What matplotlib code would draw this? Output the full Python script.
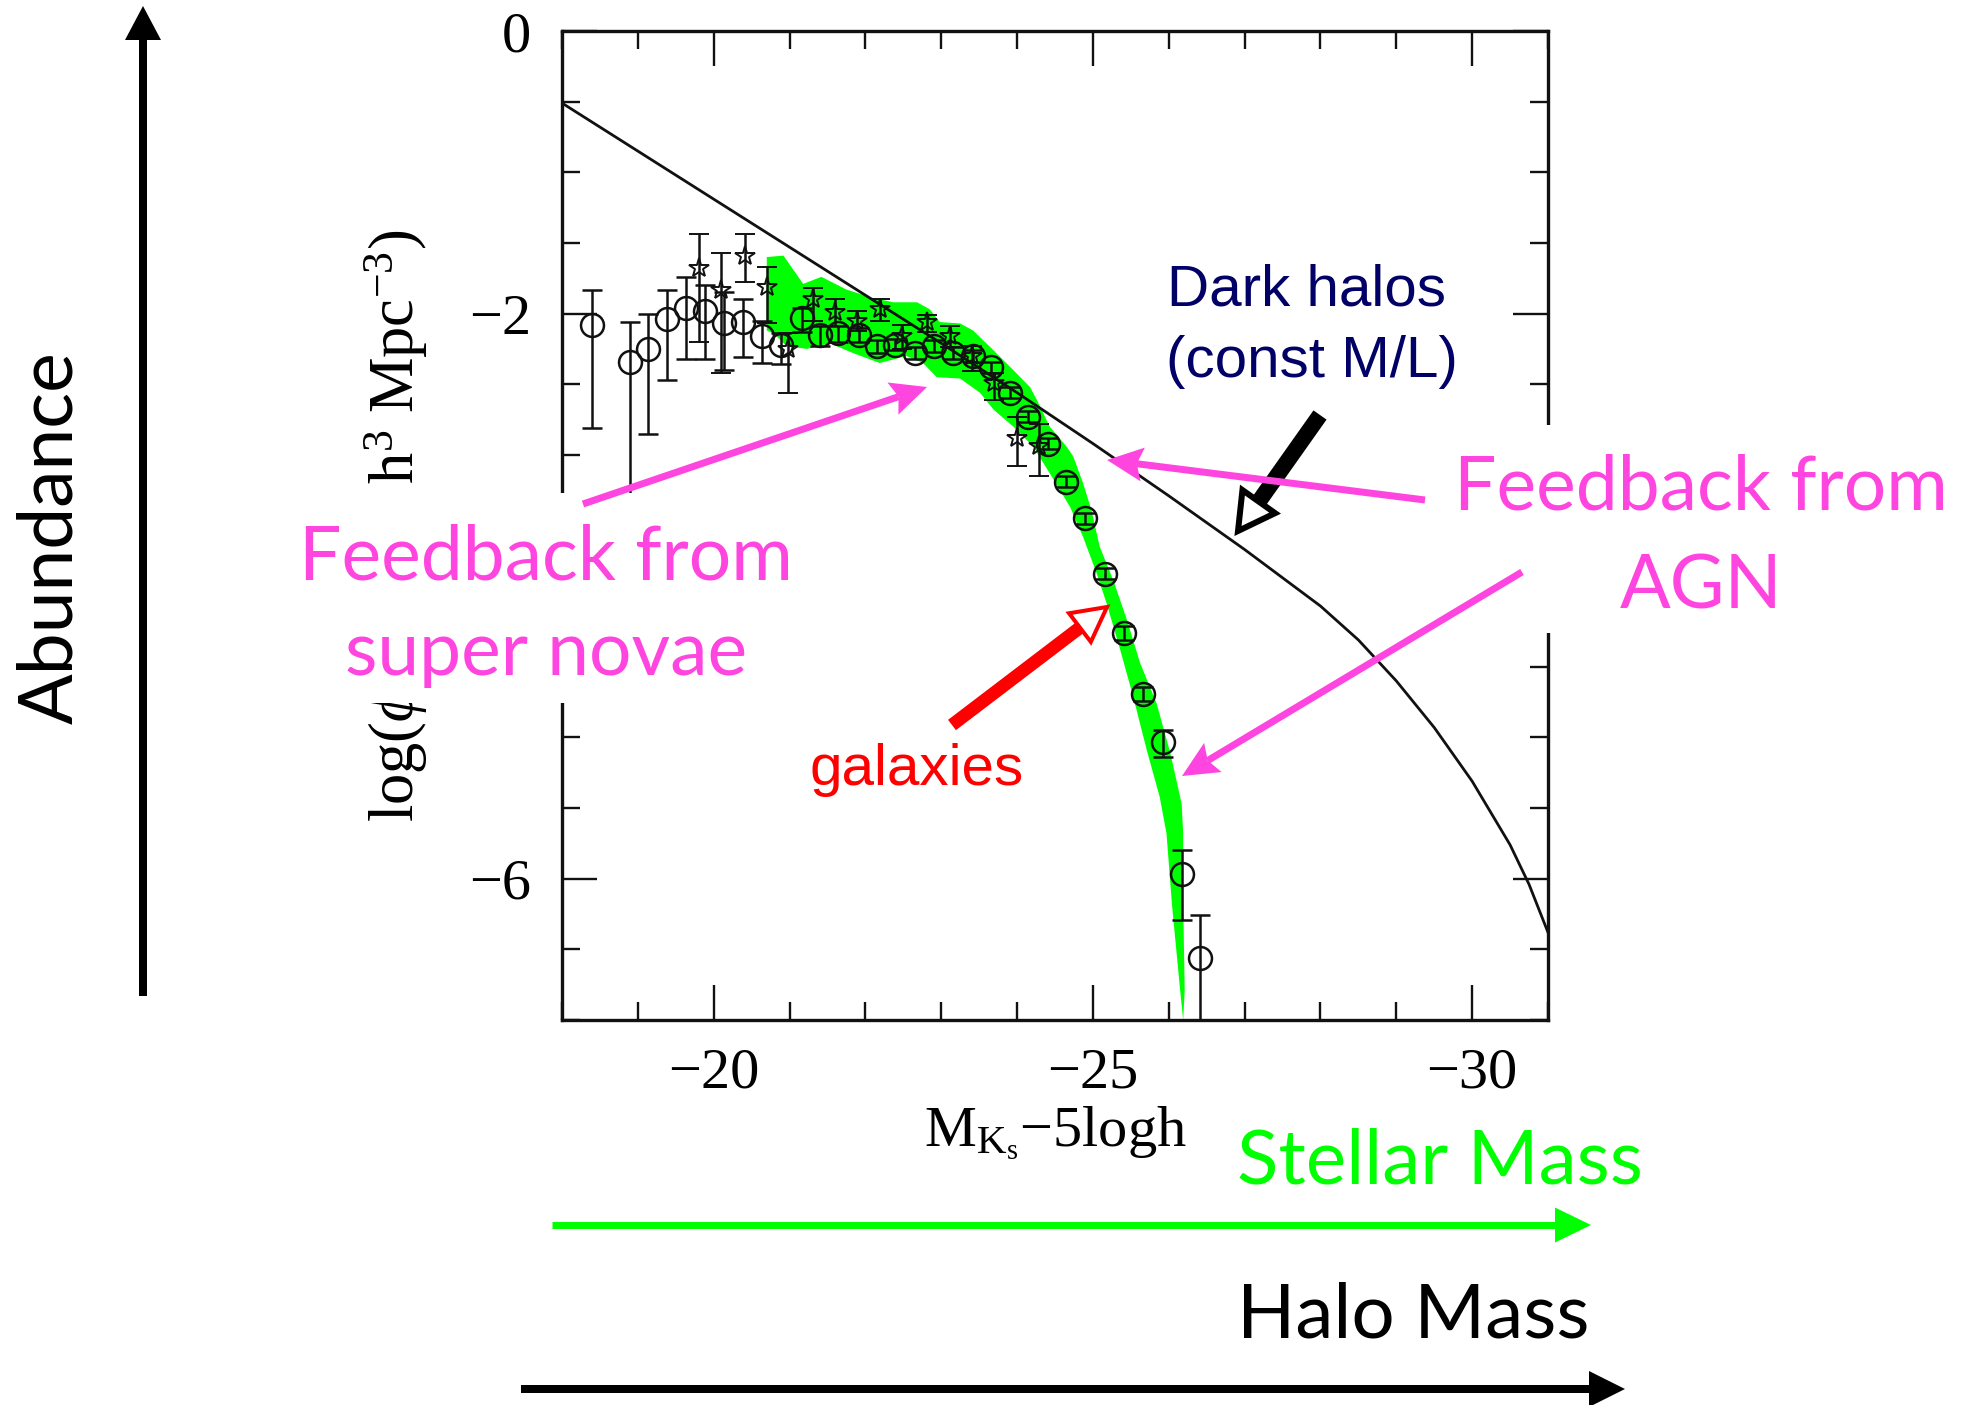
import numpy as np
import matplotlib
matplotlib.use("Agg")
import matplotlib.pyplot as plt
from matplotlib.patches import Polygon, Rectangle
from matplotlib.lines import Line2D
from matplotlib.ticker import MultipleLocator

W, H = 1977, 1405

# dark halo abundance for a constant mass-to-light ratio
halo_mag = [-18.0, -19.0, -20.0, -21.0, -22.0, -23.0, -24.0, -25.0, -26.0, -27.0,
            -28.0, -28.5, -29.0, -29.5, -30.0, -30.5, -30.75, -31.0]
halo_logphi = [-0.51, -0.85, -1.19, -1.53, -1.87, -2.21, -2.56, -2.92, -3.29, -3.67,
               -4.07, -4.31, -4.60, -4.93, -5.31, -5.76, -6.04, -6.38]

# model galaxy luminosity function band (upper/bright edge, then lower edge)
band_upper_mag = [-20.70, -20.92, -21.18, -21.42, -21.75, -22.10, -22.37, -22.68, -22.85,
                  -22.98, -23.25, -23.42, -23.69, -23.95, -24.17, -24.26, -24.43, -24.65,
                  -24.74, -24.87, -24.98, -25.09, -25.27, -25.45, -25.62, -25.84, -26.02,
                  -26.17, -26.19, -26.19, -26.21, -26.19]
band_upper_logphi = [-1.60, -1.59, -1.79, -1.74, -1.83, -1.89, -1.92, -1.92, -1.97,
                     -2.06, -2.07, -2.12, -2.26, -2.40, -2.52, -2.61, -2.80, -2.94,
                     -3.01, -3.20, -3.39, -3.65, -3.89, -4.17, -4.47, -4.76, -5.11,
                     -5.47, -5.68, -6.17, -6.79, -7.00]
band_lower_mag = [-26.15, -26.04, -25.97, -25.88, -25.71, -25.53, -25.36, -25.18, -25.05,
                  -24.87, -24.70, -24.43, -24.21, -23.95, -23.69, -23.51, -23.25, -22.94,
                  -22.76, -22.54, -22.19, -21.84, -21.53, -21.23, -20.96, -20.79, -20.70]
band_lower_logphi = [-6.79, -6.17, -5.68, -5.42, -5.09, -4.71, -4.38, -4.05, -3.84,
                     -3.58, -3.37, -3.13, -2.94, -2.80, -2.68, -2.56, -2.46, -2.45,
                     -2.35, -2.30, -2.35, -2.28, -2.21, -2.25, -2.23, -2.14, -2.12]

# open circles
circ_mag = [-18.39, -18.89, -19.14, -19.39, -19.64, -19.89, -20.14, -20.39, -20.64, -20.89,
            -21.16, -21.40, -21.64, -21.91, -22.15, -22.39, -22.65, -22.90, -23.15, -23.42,
            -23.66, -23.91, -24.15, -24.41, -24.65, -24.90, -25.16, -25.41, -25.66, -25.92,
            -26.17, -26.41]
circ_logphi = [-2.08, -2.34, -2.25, -2.04, -1.96, -1.98, -2.07, -2.06, -2.16, -2.22,
               -2.03, -2.15, -2.14, -2.15, -2.23, -2.22, -2.28, -2.23, -2.28, -2.30,
               -2.38, -2.56, -2.73, -2.92, -3.19, -3.45, -3.84, -4.26, -4.69, -5.03,
               -5.97, -6.56]
circ_err_lo = [0.73, 1.30, 0.60, 0.43, 0.36, 0.34, 0.33, 0.25, 0.19, 0.14,
               0.10, 0.08, 0.06, 0.05, 0.05, 0.04, 0.04, 0.04, 0.04, 0.04,
               0.04, 0.04, 0.04, 0.04, 0.04, 0.04, 0.04, 0.05, 0.05, 0.11,
               0.32, 0.80]
circ_err_hi = [0.25, 0.28, 0.25, 0.21, 0.22, 0.18, 0.22, 0.16, 0.11, 0.08,
               0.07, 0.06, 0.05, 0.05, 0.04, 0.04, 0.04, 0.04, 0.04, 0.04,
               0.04, 0.04, 0.04, 0.04, 0.04, 0.04, 0.04, 0.05, 0.05, 0.08,
               0.17, 0.30]

# stars
star_mag = [-19.81, -20.10, -20.41, -20.70, -20.98, -21.31, -21.60, -21.89, -22.19, -22.48,
            -22.81, -23.12, -23.41, -23.69, -24.00, -24.29]
star_logphi = [-1.68, -1.83, -1.59, -1.81, -2.25, -1.90, -1.99, -2.05, -1.97, -2.16,
               -2.06, -2.16, -2.30, -2.49, -2.88, -2.94]
star_err_lo = [0.52, 0.59, 0.19, 0.26, 0.31, 0.15, 0.10, 0.07, 0.08, 0.09,
               0.07, 0.08, 0.11, 0.12, 0.20, 0.21]
star_err_hi = [0.24, 0.26, 0.15, 0.14, 0.11, 0.08, 0.09, 0.07, 0.07, 0.08,
               0.05, 0.07, 0.07, 0.07, 0.15, 0.16]

PINK = "#ff45e0"
GREEN = "#00ff00"
NAVY = "#000066"
INK = "#111111"

plt.rcParams["mathtext.fontset"] = "custom"
plt.rcParams["mathtext.rm"] = "Liberation Serif"
plt.rcParams["mathtext.it"] = "Liberation Serif:italic"

fig = plt.figure(figsize=(W / 100, H / 100), dpi=100)
ax = fig.add_axes([562 / W, 1 - 1020 / H, (1548 - 562) / W, (1020 - 31) / H])

ax.fill(band_upper_mag + band_lower_mag, band_upper_logphi + band_lower_logphi,
        color=GREEN, lw=0, zorder=1)
ax.plot(halo_mag, halo_logphi, color=INK, lw=2.0, zorder=3)
ax.errorbar(circ_mag, circ_logphi, yerr=[circ_err_lo, circ_err_hi], fmt="o", ms=16.5,
            mfc="none", mec=INK, mew=1.8, ecolor=INK, elinewidth=1.8, capsize=7.5,
            capthick=1.8, zorder=4)
ax.errorbar(star_mag, star_logphi, yerr=[star_err_lo, star_err_hi], fmt="*", ms=15,
            mfc="none", mec=INK, mew=1.4, ecolor=INK, elinewidth=1.8, capsize=7.5,
            capthick=1.8, zorder=4)

ax.set_xlim(-18, -31)
ax.set_ylim(-7, 0)
ax.xaxis.set_major_locator(MultipleLocator(5))
ax.xaxis.set_minor_locator(MultipleLocator(1))
ax.yaxis.set_major_locator(MultipleLocator(2))
ax.yaxis.set_minor_locator(MultipleLocator(0.5))
ax.tick_params(which="both", direction="in", top=True, right=True, color=INK)
ax.tick_params(which="major", length=25, width=1.7)
ax.tick_params(which="minor", length=13, width=1.7)
ax.tick_params(axis="x", pad=20)
ax.tick_params(axis="y", pad=22)
for lab in ax.get_xticklabels() + ax.get_yticklabels():
    lab.set_fontfamily("Liberation Serif")
    lab.set_fontsize(42)
for sp in ax.spines.values():
    sp.set_linewidth(2.4)
    sp.set_color(INK)

ax.set_xlabel(r"M$_{\mathrm{K_s}}$$-$5logh", fontfamily="Liberation Serif", fontsize=42)
ax.xaxis.set_label_coords(0.5, -0.085)
ax.set_ylabel(r"log($\phi\qquad\;\;\;/\quad\ $h$^3$ Mpc$^{-3}$)",
              fontfamily="Liberation Serif", fontsize=45)
ax.yaxis.set_label_coords(-0.134, 0.4995)


def fpos(x, y):
    return (x / W, 1 - y / H)


def cover(x0, y0, x1, y1):
    fig.add_artist(Rectangle(fpos(x0, y1), (x1 - x0) / W, (y1 - y0) / H,
                             transform=fig.transFigure, facecolor="white",
                             edgecolor="none", zorder=2))


def arrow(tail, tip, color, shaft, head_len, head_w, hollow=False, edge=3, notch=0):
    tail = np.asarray(tail, float)
    tip = np.asarray(tip, float)
    u = (tip - tail) / np.hypot(*(tip - tail))
    n = np.array([-u[1], u[0]])
    base = tip - u * head_len
    end = base + u * notch
    fig.add_artist(Line2D([tail[0] / W, end[0] / W], [1 - tail[1] / H, 1 - end[1] / H],
                          lw=shaft * 0.72, color=color, solid_capstyle="butt",
                          transform=fig.transFigure, zorder=6))
    pts = [tip, base + n * head_w / 2, base + u * notch, base - n * head_w / 2]
    fig.add_artist(Polygon([fpos(*p) for p in pts], closed=True, transform=fig.transFigure,
                           facecolor="white" if hollow else color, edgecolor=color,
                           lw=edge * 0.72 if hollow else 0, joinstyle="miter", zorder=7))


# white panels behind the annotation text
cover(280, 493, 905, 703)
cover(1360, 425, W, 633)

sans_slide = "Lato"
fig.text(*fpos(546, 580), "Feedback from", ha="center", va="baseline", color=PINK,
         fontsize=54, fontfamily=sans_slide, zorder=5)
fig.text(*fpos(546, 675), "super novae", ha="center", va="baseline", color=PINK,
         fontsize=54, fontfamily=sans_slide, zorder=5)
fig.text(*fpos(1701, 510), "Feedback from", ha="center", va="baseline", color=PINK,
         fontsize=54, fontfamily=sans_slide, zorder=5)
fig.text(*fpos(1701, 608), "AGN", ha="center", va="baseline", color=PINK,
         fontsize=54, fontfamily=sans_slide, zorder=5)
fig.text(*fpos(1167, 305), "Dark halos", ha="left", va="baseline", color=NAVY,
         fontsize=42, fontfamily="Liberation Sans", zorder=5)
fig.text(*fpos(1166, 377), "(const M/L)", ha="left", va="baseline", color=NAVY,
         fontsize=42, fontfamily="Liberation Sans", zorder=5)
fig.text(*fpos(917, 785), "galaxies", ha="center", va="baseline", color="red",
         fontsize=42, fontfamily="Liberation Sans", zorder=5)
fig.text(*fpos(1237, 1183), "Stellar Mass", ha="left", va="baseline", color=GREEN,
         fontsize=55, fontfamily=sans_slide, zorder=5)
fig.text(*fpos(1237, 1337), "Halo Mass", ha="left", va="baseline", color="black",
         fontsize=55, fontfamily=sans_slide, zorder=5)
fig.text(*fpos(72, 538), "Abundance", ha="center", va="baseline", rotation=90,
         rotation_mode="anchor", color="black", fontsize=54, fontfamily=sans_slide, zorder=5)

# axis arrows
arrow((143, 996), (143, 6), "black", 8, 34, 36)
arrow((552, 1225), (1591, 1225), GREEN, 7, 36, 35)
arrow((521, 1389), (1625, 1389), "black", 8, 36, 36)

# pointers
arrow((1320, 415), (1238, 531), "black", 16, 36, 40, hollow=True, edge=6)
arrow((952, 725), (1107, 607), "red", 13, 34, 36, hollow=True, edge=4)
arrow((583, 504), (927, 387), PINK, 7, 36, 34, notch=6)
arrow((1425, 500), (1107, 460), PINK, 7, 36, 34, notch=6)
arrow((1522, 572), (1182, 776), PINK, 7, 36, 34, notch=6)

fig.savefig("out.png", dpi=100)
